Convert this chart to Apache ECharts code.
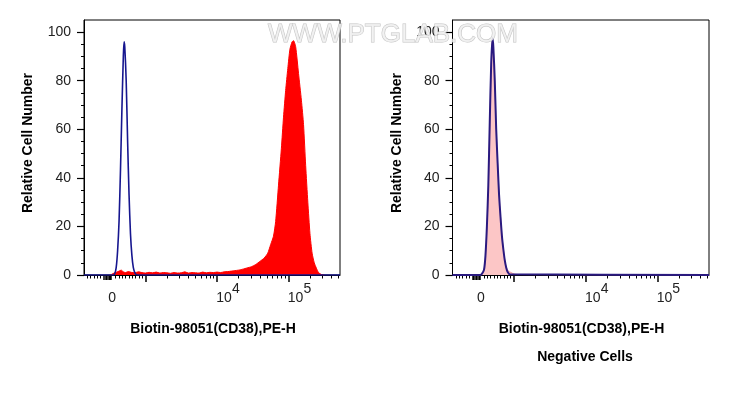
<!DOCTYPE html>
<html><head><meta charset="utf-8">
<script src="https://cdn.jsdelivr.net/npm/echarts@6/dist/echarts.min.js"></script>
<style>html,body{margin:0;padding:0;background:#fff}#c{width:729px;height:396px}</style>
</head><body><div id="c"></div>
<script>
// ---- axis (display units: 1 unit = 1 decade, biexponential) ----
const X_MIN = 2.14, X_MAX = 5.72, Y_MAX = 105;
const xLabelPos = [2.535, 4, 5];
const xLabelBase = ['0', '10', '10'];
const xLabelExp = ['', '4', '5'];
const xMajorTicks = [3, 4, 5];
const xZeroTicks = [2.42, 2.44, 2.46, 2.48, 2.50, 2.52];
const xLinearMinor = [2.19, 2.23, 2.28, 2.33, 2.37, 2.58, 2.63, 2.67, 2.72, 2.77, 2.81, 2.86, 2.91, 2.95];
const yLabels = [0, 20, 40, 60, 80, 100];
const yMinor = [5, 10, 15, 25, 30, 35, 45, 50, 55, 65, 70, 75, 85, 90, 95];

// ---- left panel: stained sample (red fill) and control (blue line) ----
const leftSampleX = [2.50, 2.53, 2.56, 2.60, 2.63, 2.66, 2.69, 2.72, 2.76, 2.80, 2.85, 2.90, 2.95, 3.00, 3.05, 3.10, 3.15, 3.20, 3.25, 3.30, 3.35, 3.40, 3.45, 3.50, 3.55, 3.60, 3.65, 3.70, 3.75, 3.80, 3.85, 3.90, 3.95, 4.00, 4.05, 4.10, 4.15, 4.20, 4.25, 4.30, 4.36, 4.42, 4.48, 4.54, 4.60, 4.66, 4.71, 4.75, 4.79, 4.82, 4.86, 4.90, 4.93, 4.96, 4.99, 5.02, 5.05, 5.07, 5.10, 5.14, 5.18, 5.21, 5.24, 5.27, 5.30, 5.33, 5.36, 5.39, 5.42, 5.46, 5.50];
const leftSampleY = [0, 0.3, 0.8, 1.2, 1.6, 2.0, 1.3, 1.0, 1.4, 1.1, 0.9, 1.3, 1.0, 0.8, 1.1, 0.9, 1.2, 0.8, 1.0, 0.9, 0.7, 1.0, 0.8, 0.9, 1.3, 0.8, 1.0, 0.9, 0.8, 1.2, 0.9, 1.1, 1.0, 1.2, 1.0, 1.3, 1.4, 1.6, 1.8, 2.0, 2.4, 2.9, 3.4, 4.3, 5.6, 7.0, 9.0, 12.5, 16, 22, 37, 52, 65, 76, 85, 93, 96, 96.5, 94, 83, 72, 62, 45, 30, 17, 9, 5, 2.8, 1.0, 0.2, 0];
const leftControlX = [2.14, 2.55, 2.57, 2.59, 2.61, 2.63, 2.65, 2.67, 2.69, 2.70, 2.71, 2.73, 2.75, 2.77, 2.79, 2.81, 2.83, 2.85, 2.87, 2.89, 5.72];
const leftControlY = [0, 0, 0.5, 3, 10, 22, 43, 68, 90, 96, 94, 80, 55, 33, 17, 8, 3, 1, 0.2, 0, 0];

// ---- right panel: negative cells (pink fill) and control (navy line) ----
const rightSampleX = [2.52, 2.55, 2.58, 2.60, 2.62, 2.64, 2.66, 2.68, 2.695, 2.71, 2.73, 2.75, 2.77, 2.79, 2.81, 2.83, 2.85, 2.87, 2.89, 2.92, 2.96, 3.00, 3.05, 5.72];
const rightSampleY = [0, 0.4, 2.0, 7, 19, 35, 60, 84, 96, 93, 79, 60, 46, 33, 24, 16, 10.5, 6, 3.2, 1.6, 1.0, 0.4, 0.2, 0];
const rightControlX = [2.14, 2.52, 2.55, 2.58, 2.60, 2.62, 2.64, 2.66, 2.68, 2.698, 2.71, 2.73, 2.75, 2.77, 2.79, 2.81, 2.83, 2.85, 2.87, 2.89, 2.91, 2.94, 5.72];
const rightControlY = [0, 0, 0.5, 2.2, 8, 20, 37, 63, 87, 97.5, 94, 80, 60, 46, 33, 24, 16, 10.5, 6, 3, 1.2, 0.3, 0];

const zip = (xs, ys) => xs.map((x, i) => [x, ys[i]]);
const logMinor = [];
[3, 4, 5].forEach(d => { for (let k = 2; k <= 9; k++) { const v = d + Math.log10(k); if (v < X_MAX) logMinor.push(v); } });
const xMinorTicks = xLinearMinor.concat(logMinor);

const FONT = '"Liberation Sans", Arial, sans-serif';
const chart = echarts.init(document.getElementById('c'), null, { renderer: 'canvas' });

function xLabelFmt(v) {
  const i = xLabelPos.findIndex(p => Math.abs(p - v) < 1e-6);
  if (i < 0) return '';
  if (!xLabelExp[i]) return '{h| }{b|' + xLabelBase[i] + '}{h| }';
  return '{sp| }{b|' + xLabelBase[i] + '}{s|' + xLabelExp[i] + '}';
}
const xRich = {
  sp: { width: 22, lineHeight: 23 },
  h: { width: 3, lineHeight: 23 },
  b: { fontSize: 14, lineHeight: 14, verticalAlign: 'bottom', color: '#222', fontFamily: FONT },
  s: { fontSize: 14, lineHeight: 14, verticalAlign: 'top', color: '#222', fontFamily: FONT }
};

function xAxes(grid) {
  const base = { type: 'value', gridIndex: grid, min: X_MIN, max: X_MAX, position: 'bottom', splitLine: { show: false } };
  return [
    Object.assign({}, base, {
      axisLine: { show: true, onZero: false, lineStyle: { color: '#000', width: 1 } },
      axisTick: { show: true, inside: false, length: 7, customValues: xMajorTicks, lineStyle: { color: '#000', width: 1.5 } },
      axisLabel: { show: true, customValues: xLabelPos, margin: 7, formatter: xLabelFmt, rich: xRich, align: 'center', color: '#222', fontFamily: FONT, fontSize: 14 }
    }),
    Object.assign({}, base, {
      axisLine: { show: false },
      axisTick: { show: true, inside: false, length: 5, customValues: xZeroTicks, lineStyle: { color: '#000', width: 1.5 } },
      axisLabel: { show: false }
    }),
    Object.assign({}, base, {
      axisLine: { show: false },
      axisTick: { show: true, inside: false, length: 3.5, customValues: xMinorTicks, lineStyle: { color: '#000', width: 1 } },
      axisLabel: { show: false }
    })
  ];
}
function yAxes(grid) {
  const base = { type: 'value', gridIndex: grid, min: 0, max: Y_MAX, position: 'left', splitLine: { show: false } };
  return [
    Object.assign({}, base, {
      axisLine: { show: true, onZero: false, lineStyle: { color: '#000', width: 1 } },
      axisTick: { show: true, inside: false, length: 7, customValues: yLabels, lineStyle: { color: '#000', width: 1.2 } },
      axisLabel: { show: true, customValues: yLabels, margin: 13, color: '#222', fontFamily: FONT, fontSize: 14 }
    }),
    Object.assign({}, base, {
      axisLine: { show: false },
      axisTick: { show: true, inside: false, length: 3, customValues: yMinor, lineStyle: { color: '#000', width: 1 } },
      axisLabel: { show: false }
    })
  ];
}

const option = {
  animation: false,
  backgroundColor: '#fff',
  grid: [
    { left: 84, top: 20, width: 256, height: 255, show: true, borderColor: '#000', borderWidth: 1, backgroundColor: 'transparent', outerBoundsMode: 'none', containLabel: false },
    { left: 452.5, top: 20, width: 256.5, height: 255, show: true, borderColor: '#000', borderWidth: 1, backgroundColor: 'transparent', outerBoundsMode: 'none', containLabel: false }
  ],
  xAxis: xAxes(0).concat(xAxes(1)),
  yAxis: yAxes(0).concat(yAxes(1)),
  series: [
    { type: 'line', xAxisIndex: 0, yAxisIndex: 0, data: zip(leftSampleX, leftSampleY), showSymbol: false, smooth: 0.2,
      lineStyle: { color: '#ff0000', width: 1 }, areaStyle: { color: '#ff0000', opacity: 1 }, z: 2 },
    { type: 'line', xAxisIndex: 0, yAxisIndex: 0, data: zip(leftControlX, leftControlY), showSymbol: false, smooth: 0.25,
      lineStyle: { color: '#16168f', width: 1.6 }, z: 3 },
    { type: 'line', xAxisIndex: 3, yAxisIndex: 2, data: zip(rightSampleX, rightSampleY), showSymbol: false, smooth: 0.25,
      lineStyle: { color: '#f4a0a0', width: 1 }, areaStyle: { color: '#fcc6c6', opacity: 1 }, z: 2 },
    { type: 'line', xAxisIndex: 3, yAxisIndex: 2, data: zip(rightControlX, rightControlY), showSymbol: false, smooth: 0.25,
      lineStyle: { color: '#2a1a80', width: 2 }, z: 3 }
  ],
  graphic: [
    { type: 'text', x: 28, y: 143, rotation: Math.PI / 2, z: 10,
      style: { text: 'Relative Cell Number', font: 'bold 14px ' + FONT, fill: '#000', align: 'center', verticalAlign: 'middle' } },
    { type: 'text', x: 397, y: 143, rotation: Math.PI / 2, z: 10,
      style: { text: 'Relative Cell Number', font: 'bold 14px ' + FONT, fill: '#000', align: 'center', verticalAlign: 'middle' } },
    { type: 'text', x: 213, y: 329, z: 10,
      style: { text: 'Biotin-98051(CD38),PE-H', font: 'bold 14px ' + FONT, fill: '#000', align: 'center', verticalAlign: 'middle' } },
    { type: 'text', x: 581.5, y: 329, z: 10,
      style: { text: 'Biotin-98051(CD38),PE-H', font: 'bold 14px ' + FONT, fill: '#000', align: 'center', verticalAlign: 'middle' } },
    { type: 'text', x: 585, y: 357, z: 10,
      style: { text: 'Negative Cells', font: 'bold 14px ' + FONT, fill: '#000', align: 'center', verticalAlign: 'middle' } },
    { type: 'text', x: 393, y: 35, z: 100,
      style: { text: 'WWW.PTGLAB.COM', font: '26px ' + FONT, fill: 'rgba(240,240,240,0.85)', stroke: 'rgba(185,185,185,0.85)', lineWidth: 1, align: 'center', verticalAlign: 'middle' } }
  ]
};
chart.setOption(option);
</script>
</body></html>
